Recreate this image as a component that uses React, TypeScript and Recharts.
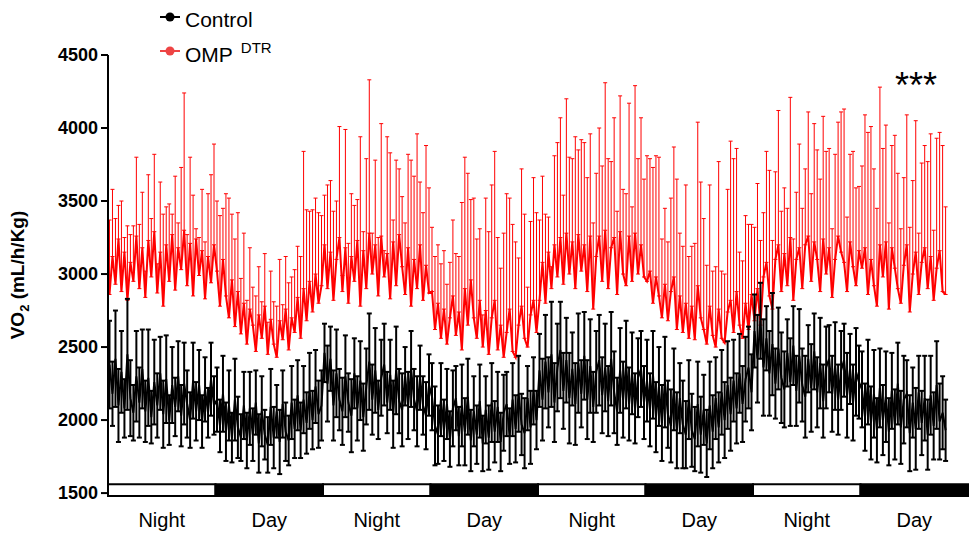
import React from 'react';
import { ComposedChart, Line, ErrorBar, XAxis, YAxis, ReferenceArea } from 'recharts';

const W = 971;
const H = 538;
const FONT = 'Arial, "Liberation Sans", Helvetica, sans-serif';
const RED = '#ff0000';
const LEGEND_RED = '#ee4444';
const PTS_PER_PHASE = 36; // 20-min bins in 12 h

const phaseLabels = ['Night', 'Day', 'Night', 'Day', 'Night', 'Day', 'Night', 'Day'];
const yTicks = [1500, 2000, 2500, 3000, 3500, 4000, 4500];

// OMP DTR, VO2 mean (mL/h/Kg), one row per 12 h phase
const ompMean = [
  2860, 3120, 2930, 3240, 2880, 3150, 2820, 3080, 2950, 3260, 2900, 3180, 2840, 3230, 2980, 3290, 2870, 3150, 2780, 3200, 2950, 3270, 2890, 3180, 3030, 3300, 2920, 3210, 2850, 3240, 2990, 3160, 2830, 3120, 2940, 3200,
  3020, 2780, 3100, 2850, 2700, 2960, 2640, 2880, 2590, 2800, 2520, 2760, 2650, 2470, 2720, 2560, 2780, 2450, 2690, 2520, 2430, 2680, 2550, 2760, 2480, 2700, 2600, 2840, 2560, 2900, 2680, 2950, 2740, 3000, 2800, 2920,
  3200, 2900, 3150, 2820, 3100, 3250, 2880, 3180, 2800, 3120, 2950, 3230, 2780, 3160, 2900, 3280, 3000, 3200, 2850, 3260, 2980, 3140, 2830, 3220, 2920, 3270, 3050, 2860, 3180, 2780, 3100, 2900, 3200, 2820, 3060, 2870,
  2880, 2620, 2800, 2560, 2760, 2520, 2700, 2850, 2580, 2740, 2480, 2900, 2650, 2960, 2700, 2560, 2820, 2500, 2750, 2450, 2700, 2820, 2480, 2650, 2430, 2600, 2760, 2470, 2430, 2650, 2780, 2560, 2500, 2720, 2820, 2600,
  2820, 3080, 2800, 3150, 2900, 3200, 2980, 3250, 2930, 3280, 3000, 3220, 2900, 3270, 3020, 3200, 2880, 3260, 2760, 3120, 3260, 2950, 3300, 2900, 3180, 3250, 2860, 3290, 3000, 2920, 3260, 2950, 3280, 3000, 3200, 2980,
  2950, 3020, 2800, 2980, 2850, 2700, 2930, 2680, 2880, 2980, 2620, 2850, 2600, 2800, 2560, 2780, 2550, 2920, 2700, 2620, 2520, 2780, 2580, 2500, 2760, 2560, 2530, 2740, 2820, 2600, 2880, 2650, 2560, 2800, 2620, 2860,
  2680, 2900, 2650, 2980, 3080, 2850, 2760, 3100, 3200, 2880, 3140, 2920, 3250, 2820, 3100, 3180, 2900, 3200, 3260, 2950, 3220, 3100, 2880, 3240, 3000, 3180, 2840, 3100, 3260, 3150, 3080, 2880, 3220, 3050, 2920, 3160,
  3040, 3180, 2860, 3100, 2920, 2780, 3200, 2980, 3220, 2760, 3180, 3040, 2900, 2800, 3060, 3200, 2740, 3000, 3150, 2860, 3080, 3180, 2900, 3120, 2820, 3040, 3160, 2880, 2860,
];

// OMP DTR, SEM (drawn upward only)
const ompSem = [
  510, 460, 450, 230, 620, 100, 510, 190, 380, 540, 440, 380, 180, 450, 400, 530, 200, 480, 630, 260, 530, 140, 780, 170, 700, 940, 350, 590, 690, 70, 260, 420, 390, 430, 740, 690,
  480, 620, 350, 700, 820, 450, 600, 540, 380, 480, 300, 420, 260, 380, 330, 250, 360, 220, 330, 290, 350, 420, 240, 360, 460, 280, 430, 350, 560, 940, 760, 480, 700, 520, 620, 480,
  340, 710, 490, 610, 400, 760, 110, 810, 410, 430, 520, 280, 1160, 130, 890, 1050, 280, 580, 400, 770, 180, 800, 1000, 150, 860, 450, 480, 490, 640, 1000, 570, 1060, 430, 600, 820, 720,
  440, 500, 400, 510, 400, 410, 380, 520, 560, 380, 1010, 900, 1040, 550, 820, 680, 490, 220, 770, 840, 910, 1020, 770, 390, 850, 950, 760, 870, 790, 460, 940, 850, 410, 640, 840, 820,
  550, 590, 610, 240, 150, 610, 920, 820, 610, 920, 800, 570, 1040, 580, 900, 700, 780, 700, 590, 570, 740, 790, 1010, 890, 590, 820, 570, 930, 580, 630, 910, 510, 1010, 790, 870, 670,
  860, 770, 930, 830, 950, 540, 520, 540, 640, 890, 1030, 430, 590, 810, 560, 410, 660, 1120, 930, 760, 540, 830, 440, 550, 1010, 460, 470, 840, 1090, 1190, 980, 500, 530, 600, 720, 480,
  640, 720, 580, 440, 760, 860, 470, 600, 920, 550, 450, 530, 960, 420, 460, 710, 550, 520, 850, 600, 810, 750, 770, 840, 840, 680, 470, 720, 780, 960, 1050, 510, 600, 790, 670, 440,
  700, 910, 1110, 910, 800, 670, 1080, 880, 800, 590, 700, 910, 790, 510, 600, 890, 580, 640, 900, 420, 680, 700, 870, 840, 480, 890, 810, 1000, 600,
];

// Control, VO2 mean (mL/h/Kg)
const ctrlMean = [
  2380, 2180, 2420, 2100, 2330, 2080, 2450, 2150, 2050, 2300, 2120, 2350, 2060, 2290, 2020, 2260, 2100, 2320, 2040, 2280, 2000, 2240, 2090, 2300, 2030, 2250, 2110, 2000, 2270, 2060, 2240, 1990, 2210, 2050, 2280, 2100,
  2140, 1960, 2180, 1920, 2100, 1880, 2140, 1950, 1880, 2100, 1860, 2080, 1900, 2120, 1840, 2060, 1900, 1830, 2090, 1880, 2060, 1850, 2110, 1920, 1860, 2120, 1940, 2170, 1930, 2140, 1980, 2200, 2000, 2230, 2040, 2100,
  2460, 2250, 2420, 2100, 2320, 2140, 2060, 2300, 2120, 2030, 2320, 2080, 2270, 2020, 2230, 2400, 2140, 2340, 2070, 2290, 2380, 2120, 2310, 2040, 2340, 2130, 2070, 2300, 2100, 2350, 2140, 2060, 2290, 2100, 2030, 2240,
  2160, 1960, 1900, 2140, 1930, 2110, 1870, 2080, 2150, 1890, 2100, 1920, 2160, 1860, 2060, 1900, 2130, 1840, 2070, 1880, 2120, 1920, 2090, 1850, 2050, 2110, 1890, 2140, 1940, 2180, 1970, 1910, 2150, 1950, 2200, 2000,
  2340, 2140, 2400, 2190, 2450, 2120, 2360, 2480, 2200, 2410, 2150, 2350, 2110, 2390, 2180, 2440, 2140, 2370, 2090, 2330, 2410, 2170, 2360, 2130, 2420, 2190, 2060, 2340, 2140, 2380, 2110, 2320, 2080, 2290, 2350, 2120,
  2270, 2070, 2310, 2020, 2230, 1980, 2260, 2040, 1960, 2210, 1930, 2150, 1970, 1900, 2140, 1930, 1870, 2110, 1900, 2070, 1840, 2100, 1920, 2150, 1950, 2190, 2000, 2240, 2040, 2270, 2080, 2320, 2110, 2280, 2360, 2190,
  2610, 2420, 2680, 2360, 2560, 2320, 2520, 2250, 2490, 2290, 2210, 2460, 2260, 2510, 2200, 2440, 2240, 2160, 2420, 2220, 2470, 2190, 2390, 2130, 2360, 2420, 2180, 2370, 2140, 2340, 2410, 2170, 2350, 2120, 2330, 2260,
  2210, 2020, 2260, 1980, 2180, 1930, 2220, 2000, 2160, 1920, 2200, 1970, 2250, 1950, 2140, 2180, 1910, 2120, 1940, 2190, 1980, 2150, 1900, 2170, 1960, 2240, 1990, 2050, 1930,
];

// Control, SEM
const ctrlSem = [
  300, 220, 330, 250, 280, 200, 380, 260, 190, 310, 240, 270, 210, 330, 180, 290, 220, 250, 230, 300, 170, 260, 200, 240, 210, 280, 230, 190, 260, 200, 240, 180, 220, 170, 250, 200,
  220, 180, 260, 200, 240, 170, 280, 210, 160, 230, 190, 250, 180, 220, 200, 240, 170, 190, 260, 210, 180, 220, 230, 200, 170, 250, 200, 240, 190, 230, 210, 260, 200, 250, 230, 240,
  200, 260, 220, 240, 300, 210, 230, 280, 200, 250, 240, 220, 270, 230, 260, 330, 240, 290, 200, 260, 280, 210, 240, 230, 300, 220, 250, 200, 230, 260, 210, 240, 220, 200, 230, 210,
  230, 270, 200, 250, 210, 240, 190, 260, 220, 200, 280, 230, 260, 210, 240, 200, 250, 190, 230, 220, 270, 210, 240, 200, 260, 220, 190, 250, 230, 260, 210, 240, 220, 250, 230, 200,
  250, 280, 320, 240, 360, 270, 300, 330, 260, 290, 310, 250, 280, 340, 230, 300, 270, 320, 240, 280, 310, 260, 300, 240, 320, 280, 230, 290, 260, 300, 250, 280, 240, 270, 260, 250,
  280, 250, 300, 240, 270, 260, 310, 230, 250, 280, 260, 240, 300, 230, 270, 250, 220, 290, 260, 240, 230, 300, 250, 280, 240, 290, 260, 300, 250, 280, 240, 270, 260, 290, 280, 260,
  250, 300, 260, 330, 220, 290, 350, 240, 280, 310, 260, 230, 300, 270, 240, 320, 250, 280, 230, 300, 260, 240, 310, 250, 280, 230, 260, 300, 240, 270, 250, 290, 240, 260, 300, 250,
  260, 230, 290, 250, 300, 220, 270, 240, 310, 230, 260, 240, 280, 250, 300, 230, 260, 240, 280, 250, 220, 290, 240, 270, 230, 300, 260, 250, 210,
];

const data = ctrlMean.map((c, i) => ({
  t: i + 0.5,
  ctrl: c,
  ctrlErr: ctrlSem[i],
  omp: ompMean[i],
  ompErr: [0, ompSem[i]],
}));

const xMax = phaseLabels.length * PTS_PER_PHASE;
const phaseTicks = phaseLabels.map((_, i) => (i + 0.5) * PTS_PER_PHASE);

function PhaseTick(props: any) {
  const { x, y, payload } = props;
  const label = phaseLabels[Math.floor(payload.value / PTS_PER_PHASE)];
  return (
    <text x={x} y={y + 31} textAnchor="middle" fontSize={20} fontFamily={FONT} fill="#000">
      {label}
    </text>
  );
}

export default function App() {
  return (
    <div style={{ position: 'absolute', left: 0, top: 0, width: W, height: H, background: '#fff' }}>
      <ComposedChart width={W} height={H} data={data} margin={{ top: 55, right: 3, bottom: 0, left: 0 }}>
        <XAxis
          type="number"
          dataKey="t"
          domain={[0, xMax]}
          ticks={phaseTicks}
          interval={0}
          tickLine={false}
          axisLine={false}
          tickSize={0}
          tickMargin={0}
          height={42}
          tick={PhaseTick}
          allowDataOverflow
        />
        <YAxis
          type="number"
          domain={[1480, 4500]}
          ticks={yTicks}
          interval={0}
          width={108}
          tickSize={7}
          tickMargin={3}
          axisLine={{ stroke: '#000', strokeWidth: 2 }}
          tickLine={{ stroke: '#000', strokeWidth: 2 }}
          tick={{ fill: '#000', fontSize: 18, fontWeight: 700, fontFamily: FONT }}
          allowDataOverflow
        />
        {phaseLabels.map((label, i) => (
          <ReferenceArea
            key={i}
            x1={i * PTS_PER_PHASE}
            x2={(i + 1) * PTS_PER_PHASE}
            y1={1480}
            y2={1560}
            fill={label === 'Day' ? '#000' : '#fff'}
            fillOpacity={1}
            stroke="#000"
            strokeWidth={2}
            ifOverflow="visible"
          />
        ))}
        <Line
          type="linear"
          dataKey="omp"
          stroke={RED}
          strokeWidth={2}
          dot={false}
          isAnimationActive={false}
        >
          <ErrorBar dataKey="ompErr" direction="y" width={2} stroke={RED} strokeWidth={1} isAnimationActive={false} />
        </Line>
        <Line
          type="linear"
          dataKey="ctrl"
          stroke="#000"
          strokeWidth={2}
          dot={false}
          isAnimationActive={false}
        >
          <ErrorBar dataKey="ctrlErr" direction="y" width={2.5} stroke="#000" strokeWidth={2} isAnimationActive={false} />
        </Line>
      </ComposedChart>
      <svg
        width={W}
        height={H}
        style={{ position: 'absolute', left: 0, top: 0, pointerEvents: 'none' }}
        fontFamily={FONT}
      >
        <text transform="translate(24 275) rotate(-90)" textAnchor="middle" fontSize={19} fontWeight={700} fill="#000">
          VO<tspan fontSize={13} dy={5}>2</tspan>
          <tspan dy={-5}> (mL/h/Kg)</tspan>
        </text>
        <line x1={160} y1={17} x2={180} y2={17} stroke="#000" strokeWidth={2} />
        <circle cx={170} cy={17} r={4.5} fill="#000" />
        <text x={185} y={27} fontSize={21} fill="#000">Control</text>
        <line x1={160} y1={51} x2={180} y2={51} stroke={LEGEND_RED} strokeWidth={2} />
        <circle cx={170} cy={51} r={4.5} fill={LEGEND_RED} />
        <text x={185} y={62} fontSize={21} fill="#000">
          OMP<tspan dx={8} dy={-9} fontSize={15}>DTR</tspan>
        </text>
        <text x={916} y={98} textAnchor="middle" fontSize={36} fill="#000">***</text>
      </svg>
    </div>
  );
}
